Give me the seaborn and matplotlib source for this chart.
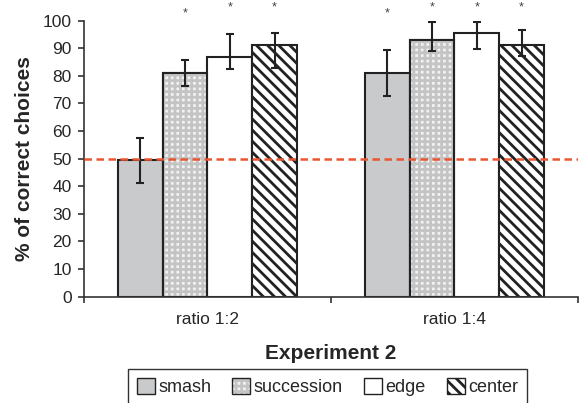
import pandas as pd
import seaborn as sns
import matplotlib.pyplot as plt
from matplotlib.patches import Patch, Rectangle
from matplotlib.legend_handler import HandlerTuple

ratios = ['ratio 1:2', 'ratio 1:4']
conditions = ['smash', 'succession', 'edge', 'center']

# mean % correct per condition, one list per ratio
mean_12 = [49.5, 81.0, 86.8, 91.2]
mean_14 = [81.0, 93.1, 95.6, 91.2]
# lower / upper error per bar
err_lo_12 = [8.3, 4.5, 4.5, 8.3]
err_hi_12 = [8.1, 4.6, 8.3, 4.2]
err_lo_14 = [8.4, 4.1, 5.8, 4.0]
err_hi_14 = [8.2, 6.3, 3.8, 5.4]
stars_12 = ['', '*', '*', '*']
stars_14 = ['*', '*', '*', '*']
chance = 50

colors = {'smash': '#c9cacc', 'succession': '#f2f2f2', 'edge': 'white', 'center': 'white'}
EDGE = '#222222'

sns.set_style('ticks')
plt.rcParams['font.family'] = ['Liberation Sans', 'DejaVu Sans']
plt.rcParams['hatch.linewidth'] = 2.0

df = pd.DataFrame({
    'ratio': [r for r in ratios for _ in conditions],
    'condition': conditions * 2,
    'pct': mean_12 + mean_14,
})
lo = {ratios[0]: err_lo_12, ratios[1]: err_lo_14}
hi = {ratios[0]: err_hi_12, ratios[1]: err_hi_14}
stars = {ratios[0]: stars_12, ratios[1]: stars_14}

fig = plt.figure(figsize=(5.81, 4.03), dpi=100)
ax = fig.add_axes([0.1446, 0.2638, 0.850, 0.685])

sns.barplot(data=df, x='ratio', y='pct', hue='condition', order=ratios,
            hue_order=conditions, palette=colors, width=0.725, gap=0,
            edgecolor=EDGE, linewidth=1.5, errorbar=None, legend=False,
            saturation=1, ax=ax)

for k, (cond, cont) in enumerate(zip(conditions, ax.containers)):
    xs = [b.get_x() + b.get_width() / 2 for b in cont]
    ys = [b.get_height() for b in cont]
    yl = [lo[r][k] for r in ratios]
    yh = [hi[r][k] for r in ratios]
    for b in cont:
        if cond == 'center':
            b.set_hatch('\\\\\\')
        elif cond == 'succession':
            # checker-ish fill, drawn in grey, with the black outline kept on top
            ax.add_patch(Rectangle(b.get_xy(), b.get_width(), b.get_height(),
                                   fill=False, hatch='+++', edgecolor='#c4c4c4',
                                   lw=0, zorder=b.get_zorder() + 0.1))
            ax.add_patch(Rectangle(b.get_xy(), b.get_width(), b.get_height(),
                                   fill=False, edgecolor=EDGE, lw=1.5,
                                   zorder=b.get_zorder() + 0.2))
    ax.errorbar(xs, ys, yerr=[yl, yh], fmt='none', ecolor=EDGE,
                elinewidth=1.5, capsize=3, capthick=1.5, zorder=4)
    for x, y, h, r in zip(xs, ys, yh, ratios):
        s = stars[r][k]
        if s:
            ax.text(x, 104.6 if y + h < 92 else 106.9, s, ha='center', va='top',
                    fontsize=9, color='#444444')

ax.axhline(chance, color='#ea5532', lw=1.8, ls=(0, (3, 1.8)), zorder=5)

ax.set_ylim(0, 100)
ax.set_xlim(-0.5, 1.5)
ax.set_yticks(range(0, 101, 10))
ax.set_xticks([-0.5, 0.5, 1.5], minor=True)
ax.tick_params(axis='x', which='major', length=0, pad=11, labelsize=12.5)
ax.tick_params(axis='x', which='minor', length=4, width=1.2, color='#333333')
ax.tick_params(axis='y', length=4, width=1.2, color='#333333', labelsize=12.5, pad=5)
for side in ['top', 'right']:
    ax.spines[side].set_visible(False)
for side in ['left', 'bottom']:
    ax.spines[side].set_color('#333333')
    ax.spines[side].set_linewidth(1.2)

ax.set_ylabel('% of correct choices', fontsize=15, fontweight='bold', labelpad=6)
ax.set_xlabel('Experiment 2', fontsize=15, fontweight='bold', labelpad=12)

handles = [
    Patch(facecolor=colors['smash'], edgecolor=EDGE),
    (Patch(facecolor=colors['succession'], edgecolor='#c4c4c4', hatch='+++', lw=0),
     Patch(fill=False, edgecolor=EDGE)),
    Patch(facecolor='white', edgecolor=EDGE),
    Patch(facecolor='white', edgecolor=EDGE, hatch='\\\\\\'),
]
leg = fig.legend(handles, conditions, handler_map={tuple: HandlerTuple(ndivide=1)},
                 loc='upper center', bbox_to_anchor=(0.5637, 0.0844), ncol=4,
                 frameon=True, fancybox=False, edgecolor='#333333',
                 handlelength=1.0, handleheight=1.0, handletextpad=0.2,
                 columnspacing=1.15, borderpad=0.5, borderaxespad=0,
                 fontsize=13, framealpha=1)
leg.get_frame().set_linewidth(1.0)

fig.savefig('out.png', dpi=100)
